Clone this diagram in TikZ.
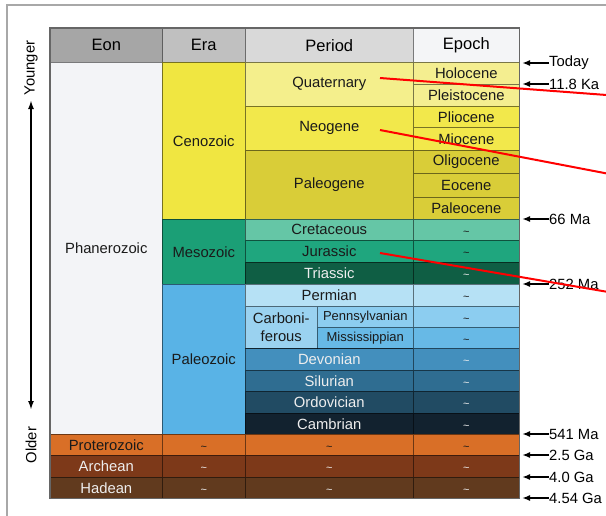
\documentclass[tikz,border=0pt]{standalone}
\usepackage{fontspec}
\setmainfont{Liberation Sans}
\usepackage{tikz}
\usetikzlibrary{arrows.meta}
\definecolor{eonc}{HTML}{A6A6A6}
\definecolor{erac}{HTML}{C0C0C0}
\definecolor{perc}{HTML}{D9D9D9}
\definecolor{epoc}{HTML}{F4F5F7}
\definecolor{phanc}{HTML}{F3F4F7}
\definecolor{cenoc}{HTML}{F0E641}
\definecolor{mesoc}{HTML}{1B9F76}
\definecolor{paleoc}{HTML}{59B3E6}
\definecolor{quatc}{HTML}{F4EF8C}
\definecolor{holoc}{HTML}{F4EE90}
\definecolor{neoc}{HTML}{F2E84B}
\definecolor{palgc}{HTML}{D9CD38}
\definecolor{cretc}{HTML}{65C6A6}
\definecolor{jurac}{HTML}{1FA67E}
\definecolor{triac}{HTML}{0F5E44}
\definecolor{permc}{HTML}{B6E1F5}
\definecolor{carbc}{HTML}{9AD2F0}
\definecolor{pennc}{HTML}{8CCDF0}
\definecolor{missc}{HTML}{67B9E6}
\definecolor{devoc}{HTML}{438FBD}
\definecolor{siluc}{HTML}{2F6D91}
\definecolor{ordoc}{HTML}{214B63}
\definecolor{cambc}{HTML}{12222F}
\definecolor{protc}{HTML}{D96F27}
\definecolor{archc}{HTML}{7D3919}
\definecolor{hadec}{HTML}{613A1E}
\definecolor{lt}{HTML}{EEEEEE}
\definecolor{dk}{HTML}{1A1A1A}
\definecolor{framec}{HTML}{A8A8A8}
\newcommand{\agetilde}{{\fontsize{11}{12}\selectfont\strut\raisebox{-3pt}{\textasciitilde}}}
\tikzstyle{cell}=[draw=black, draw opacity=0.5, line width=0.6pt, anchor=north west, inner sep=0pt, align=center, font=\fontsize{14.8}{18}\selectfont]
\tikzstyle{headcell}=[cell, minimum height=34pt, font=\fontsize{16.5}{18}\selectfont]
\tikzstyle{agelabel}=[anchor=west, inner sep=0pt, font=\fontsize{14.8}{16}\selectfont]
\tikzstyle{agearrow}=[-{Latex[length=8pt,width=6pt]}, line width=1.6pt]
\tikzstyle{timearrow}=[{Latex[length=9pt,width=6pt]}-{Latex[length=9pt,width=6pt]}, line width=2pt]
\tikzstyle{redline}=[line width=2pt, color=red]

\begin{document}
\begin{tikzpicture}[x=1pt,y=-1pt]
\useasboundingbox (0,0) rectangle (606,515);
\begin{scope}
\clip (0,0) rectangle (606,515);
\draw[framec, line width=2pt] (7,530) -- (7,5) -- (620,5);
\end{scope}

% header
\node[headcell, fill=eonc, minimum width=112pt] (eon) at (50,28) {Eon};
\node[headcell, fill=erac, minimum width=83pt] (era) at (162,28) {Era};
\node[headcell, fill=perc, minimum width=168pt] (period) at (245,28) {Period};
\node[headcell, fill=epoc, minimum width=106pt] (epoch) at (413,28) {Epoch};

% eons
\foreach \n/\y/\h/\c/\t/\f in {phan/62/372/phanc/Phanerozoic/dk, prot/434/21/protc/Proterozoic/dk,
  arch/455/22/archc/Archean/lt, hade/477/21/hadec/Hadean/lt}
\node[cell, fill=\c, text=\f, minimum width=112pt, minimum height=\h pt] (\n) at (50,\y) {\t};

% eras
\foreach \n/\y/\h/\c/\t/\f in {ceno/62/157/cenoc/Cenozoic/dk, meso/219/65/mesoc/Mesozoic/dk,
  paleo/284/150/paleoc/Paleozoic/dk, rprot/434/21/protc/\agetilde/dk,
  rarch/455/22/archc/\agetilde/lt, rhade/477/21/hadec/\agetilde/lt}
\node[cell, fill=\c, text=\f, minimum width=83pt, minimum height=\h pt] (\n) at (162,\y) {\t};

% periods
\foreach \n/\y/\h/\c/\t/\f in {quat/62/44/quatc/Quaternary/dk, neog/106/44/neoc/Neogene/dk,
  paleog/150/69/palgc/Paleogene/dk, cret/219/21/cretc/Cretaceous/dk,
  jura/240/22/jurac/Jurassic/dk, tria/262/22/triac/Triassic/lt,
  perm/284/22/permc/Permian/dk, devo/348/22/devoc/Devonian/lt,
  silu/370/21/siluc/Silurian/lt, ordo/391/22/ordoc/Ordovician/lt,
  camb/413/21/cambc/Cambrian/lt, pprot/434/21/protc/\agetilde/dk,
  parch/455/22/archc/\agetilde/lt, phade/477/21/hadec/\agetilde/lt}
\node[cell, fill=\c, text=\f, minimum width=168pt, minimum height=\h pt] (\n) at (245,\y) {\t};
\node[cell, fill=carbc, text=dk, minimum width=72pt, minimum height=42pt] (carb) at (245,306) {Carboni-\\ferous};
\node[cell, fill=pennc, text=dk, minimum width=96pt, minimum height=21pt, font=\fontsize{13}{15}\selectfont] (penn) at (317,306) {Pennsylvanian};
\node[cell, fill=missc, text=dk, minimum width=96pt, minimum height=21pt, font=\fontsize{13}{15}\selectfont] (miss) at (317,327) {Mississippian};

% epochs
\foreach \n/\y/\h/\c/\t/\f in {holo/62/22/holoc/Holocene/dk, plei/84/22/holoc/Pleistocene/dk,
  plio/106/21/neoc/Pliocene/dk, mio/127/23/neoc/Miocene/dk,
  oligo/150/23/palgc/Oligocene/dk, eoc/173/24/palgc/Eocene/dk, palc/197/22/palgc/Paleocene/dk,
  ecret/219/21/cretc/\agetilde/dk, ejura/240/22/jurac/\agetilde/dk, etria/262/22/triac/\agetilde/lt,
  eperm/284/22/permc/\agetilde/dk, epenn/306/21/pennc/\agetilde/dk, emiss/327/21/missc/\agetilde/dk,
  edevo/348/22/devoc/\agetilde/lt, esilu/370/21/siluc/\agetilde/lt, eordo/391/22/ordoc/\agetilde/lt,
  ecamb/413/21/cambc/\agetilde/lt, eprot/434/21/protc/\agetilde/dk,
  earch/455/22/archc/\agetilde/lt, ehade/477/21/hadec/\agetilde/lt}
\node[cell, fill=\c, text=\f, minimum width=106pt, minimum height=\h pt] (\n) at (413,\y) {\t};

\draw[black!60, line width=1.3pt] (eon.north west) rectangle (ehade.south east);

% ages
\foreach \n/\y/\t in {today/63/Today, ka/84/11.8 Ka, ma66/219/66 Ma, ma252/284/252 Ma,
  ma541/434/541 Ma, ga25/455/2.5 Ga, ga40/477/4.0 Ga, ga454/498/4.54 Ga}
{
\coordinate (t\n) at (522,\y);
\node[agelabel] (l\n) at (549,\y) {\t};
\draw[agearrow] (l\n.west) -- (t\n);
}

% time axis
\coordinate (young) at (31,100);
\coordinate (old) at (31,410);
\draw[timearrow] (old) -- (young);
\node[rotate=90, font=\fontsize{14.8}{16}\selectfont] (younger) at (31,68) {Younger};
\node[rotate=90, font=\fontsize{14.8}{16}\selectfont] (older) at (31,445) {Older};

% red lines
\begin{scope}
\clip (0,0) rectangle (606,515);
\coordinate (r1) at (380,78);
\coordinate (r1e) at (620,96);
\coordinate (r2) at (380,130);
\coordinate (r2e) at (620,176);
\coordinate (r3) at (380,253);
\coordinate (r3e) at (620,294);
\draw[redline] (r1) -- (r1e);
\draw[redline] (r2) -- (r2e);
\draw[redline] (r3) -- (r3e);
\end{scope}
\end{tikzpicture}
\end{document}
